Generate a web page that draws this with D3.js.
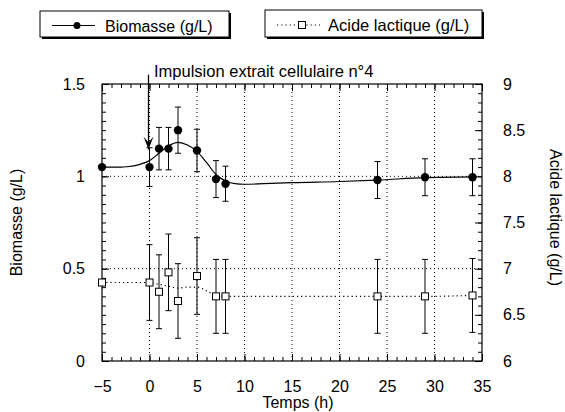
<!DOCTYPE html>
<html>
<head>
<meta charset="utf-8">
<script src="https://cdn.jsdelivr.net/npm/d3@7"></script>
<style>
  body { margin: 0; background: #fff; }
  svg { font-family: "Liberation Sans", Arial, sans-serif; }
</style>
</head>
<body>
<div id="chart"></div>
<script>
// measured points (time in h)
const temps = [-5, 0, 1, 2, 3, 5, 7, 8, 24, 29, 34];
const biomasse = [1.05, 1.05, 1.15, 1.15, 1.25, 1.14, 0.985, 0.96, 0.98, 0.995, 0.995];
const biomasseErr = [0, 0.105, 0.115, 0.115, 0.125, 0.115, 0.1, 0.095, 0.1, 0.1, 0.1];
const acide = [6.85, 6.85, 6.75, 6.96, 6.65, 6.92, 6.70, 6.70, 6.70, 6.70, 6.71];
const acideErr = [0, 0.41, 0.4, 0.415, 0.404, 0.415, 0.4, 0.4, 0.4, 0.4, 0.4];

// smoothed curves
const fitBioT = [-5, -4, -3, -2.4, -1, 0, 1, 2, 3, 4, 5, 6, 7, 8, 9, 10, 12, 15, 20, 24, 29, 34];
const fitBio = [1.05, 1.05, 1.05, 1.052, 1.065, 1.085, 1.125, 1.165, 1.184, 1.17, 1.135, 1.075, 1.01, 0.975, 0.96, 0.957, 0.96, 0.966, 0.972, 0.98, 0.993, 0.997];
const fitAcideT = [-5, 0, 1, 2, 3, 4, 5, 6, 7, 8, 24, 29, 34];
const fitAcide = [6.85, 6.85, 6.83, 6.81, 6.79, 6.80, 6.80, 6.76, 6.71, 6.70, 6.70, 6.70, 6.71];

const xTicks = [-5, 0, 5, 10, 15, 20, 25, 30, 35];
const yLeftTicks = [0, 0.5, 1, 1.5];
const yRightTicks = [6, 6.5, 7, 7.5, 8, 8.5, 9];
const xGrid = [0, 5, 10, 15, 20, 25, 30];
const yGrid = [0.5, 1];

const margin = { top: 84, right: 83, bottom: 51, left: 102 };
const width = 565 - margin.left - margin.right;
const height = 412 - margin.top - margin.bottom;

const svg = d3.select("#chart")
  .append("svg")
  .attr("width", 565)
  .attr("height", 412);

const g = svg.append("g")
  .attr("transform", "translate(" + margin.left + "," + margin.top + ")");

// scales
const x = d3.scaleLinear().domain([-5, 35]).range([0, width]);
const y = d3.scaleLinear().domain([0, 1.5]).range([height, 0]);
const y2 = d3.scaleLinear().domain([6, 9]).range([height, 0]);

// grid
g.selectAll(".vgrid").data(xGrid).enter().append("line")
  .attr("x1", d => x(d)).attr("x2", d => x(d))
  .attr("y1", 0).attr("y2", height)
  .attr("stroke", "#000").attr("stroke-width", 1)
  .attr("stroke-dasharray", "1,3");

g.selectAll(".hgrid").data(yGrid).enter().append("line")
  .attr("x1", 0).attr("x2", width)
  .attr("y1", d => y(d)).attr("y2", d => y(d))
  .attr("stroke", "#000").attr("stroke-width", 1)
  .attr("stroke-dasharray", "1,3");

// axes with inward ticks
function styleAxis(sel) {
  sel.select(".domain").remove();
  sel.selectAll("text").attr("font-size", 16).attr("fill", "#000");
  sel.selectAll("line").attr("stroke", "#000");
}

// minor ticks
const xMinor = d3.range(-5, 36, 1);
const yMinor = d3.range(0, 1.5001, 0.05);
const y2Minor = d3.range(6, 9.001, 0.1);

g.append("g").attr("transform", "translate(0," + height + ")")
  .call(d3.axisBottom(x).tickValues(xMinor).tickSize(-4).tickFormat(""))
  .call(styleAxis);
g.append("g").attr("transform", "translate(0," + height + ")")
  .call(d3.axisBottom(x).tickValues(xTicks).tickSize(-7).tickPadding(20).tickFormat(d3.format("d")))
  .call(styleAxis);
g.append("g")
  .call(d3.axisTop(x).tickValues(xMinor).tickSize(-4).tickFormat(""))
  .call(styleAxis);
g.append("g")
  .call(d3.axisTop(x).tickValues(xTicks).tickSize(-7).tickFormat(""))
  .call(styleAxis);

g.append("g")
  .call(d3.axisLeft(y).tickValues(yMinor).tickSize(-4).tickFormat(""))
  .call(styleAxis);
g.append("g")
  .call(d3.axisLeft(y).tickValues(yLeftTicks).tickSize(-7).tickPadding(17).tickFormat(d => d3.format("")(d)))
  .call(styleAxis);

g.append("g").attr("transform", "translate(" + width + ",0)")
  .call(d3.axisRight(y2).tickValues(y2Minor).tickSize(-4).tickFormat(""))
  .call(styleAxis);
g.append("g").attr("transform", "translate(" + width + ",0)")
  .call(d3.axisRight(y2).tickValues(yRightTicks).tickSize(-7).tickPadding(21).tickFormat(d => d3.format("")(d)))
  .call(styleAxis);

// frame
g.append("rect")
  .attr("width", width).attr("height", height)
  .attr("fill", "none").attr("stroke", "#000").attr("stroke-width", 1.2);

// axis titles
svg.append("text")
  .attr("x", margin.left + width / 2 + 6).attr("y", 408)
  .attr("text-anchor", "middle").attr("font-size", 16)
  .text("Temps (h)");
svg.append("text")
  .attr("transform", "translate(22," + (margin.top + height / 2) + ") rotate(-90)")
  .attr("text-anchor", "middle").attr("font-size", 16)
  .text("Biomasse (g/L)");
svg.append("text")
  .attr("transform", "translate(550," + (margin.top + height / 2 - 5) + ") rotate(90)")
  .attr("text-anchor", "middle").attr("font-size", 16)
  .text("Acide lactique (g/L)");

// fitted curves
const bioFitData = fitBioT.map((t, i) => ({ t, v: fitBio[i] }));
const acideFitData = fitAcideT.map((t, i) => ({ t, v: fitAcide[i] }));

g.append("path")
  .datum(bioFitData)
  .attr("fill", "none").attr("stroke", "#000").attr("stroke-width", 1.2)
  .attr("d", d3.line().x(d => x(d.t)).y(d => y(d.v)).curve(d3.curveMonotoneX));

g.append("path")
  .datum(acideFitData)
  .attr("fill", "none").attr("stroke", "#000").attr("stroke-width", 1.2)
  .attr("stroke-dasharray", "1.2,3")
  .attr("d", d3.line().x(d => x(d.t)).y(d => y2(d.v)).curve(d3.curveMonotoneX));

// error bars
function errorBars(values, errs, scale) {
  const data = temps.map((t, i) => ({ t, v: values[i], e: errs[i] })).filter(d => d.e > 0);
  const eb = g.append("g").attr("stroke", "#000").attr("stroke-width", 1);
  eb.selectAll(".ev").data(data).enter().append("line")
    .attr("x1", d => x(d.t)).attr("x2", d => x(d.t))
    .attr("y1", d => scale(d.v - d.e)).attr("y2", d => scale(d.v + d.e));
  eb.selectAll(".ct").data(data).enter().append("line")
    .attr("x1", d => x(d.t) - 3).attr("x2", d => x(d.t) + 3)
    .attr("y1", d => scale(d.v + d.e)).attr("y2", d => scale(d.v + d.e));
  eb.selectAll(".cb").data(data).enter().append("line")
    .attr("x1", d => x(d.t) - 3).attr("x2", d => x(d.t) + 3)
    .attr("y1", d => scale(d.v - d.e)).attr("y2", d => scale(d.v - d.e));
}
errorBars(acide, acideErr, y2);
errorBars(biomasse, biomasseErr, y);

// markers
g.selectAll(".sq").data(temps).enter().append("rect")
  .attr("x", d => x(d) - 3.5).attr("y", (d, i) => y2(acide[i]) - 3.5)
  .attr("width", 7).attr("height", 7)
  .attr("fill", "#fff").attr("stroke", "#000").attr("stroke-width", 1);

g.selectAll(".dot").data(temps).enter().append("circle")
  .attr("cx", d => x(d)).attr("cy", (d, i) => y(biomasse[i]))
  .attr("r", 4.2).attr("fill", "#000");

// annotation arrow
const arrowX = x(0) - 1;
g.append("line")
  .attr("x1", arrowX).attr("x2", arrowX)
  .attr("y1", y(1.55)).attr("y2", y(1.145))
  .attr("stroke", "#000").attr("stroke-width", 1.3);
g.append("path")
  .attr("d", "M" + (arrowX - 5) + "," + (y(1.145) - 13) + " L" + arrowX + "," + y(1.145) +
    " L" + (arrowX + 5) + "," + (y(1.145) - 13) + " L" + arrowX + "," + (y(1.145) - 7) + " Z")
  .attr("fill", "#000");
svg.append("text")
  .attr("x", 154).attr("y", 77)
  .attr("font-size", 16.5)
  .text("Impulsion extrait cellulaire n°4");

// legends
function legendBox(bx, by, bw, bh) {
  svg.append("rect").attr("x", bx + 2).attr("y", by + 2).attr("width", bw).attr("height", bh).attr("fill", "#000");
  svg.append("rect").attr("x", bx).attr("y", by).attr("width", bw).attr("height", bh)
    .attr("fill", "#fff").attr("stroke", "#000").attr("stroke-width", 1);
}
legendBox(40, 11, 189, 26);
svg.append("line").attr("x1", 52).attr("x2", 95).attr("y1", 25.5).attr("y2", 25.5)
  .attr("stroke", "#000").attr("stroke-width", 1.2);
svg.append("circle").attr("cx", 77).attr("cy", 25.5).attr("r", 3.5).attr("fill", "#000");
svg.append("text").attr("x", 105).attr("y", 31.5).attr("font-size", 16).text("Biomasse (g/L)");

legendBox(265, 10, 217, 27);
svg.append("line").attr("x1", 277).attr("x2", 320).attr("y1", 25).attr("y2", 25)
  .attr("stroke", "#000").attr("stroke-width", 1.2).attr("stroke-dasharray", "1.2,3");
svg.append("rect").attr("x", 298.5).attr("y", 21.5).attr("width", 7).attr("height", 7)
  .attr("fill", "#fff").attr("stroke", "#000");
svg.append("text").attr("x", 328).attr("y", 30.5).attr("font-size", 16.5).text("Acide lactique (g/L)");
</script>
</body>
</html>
